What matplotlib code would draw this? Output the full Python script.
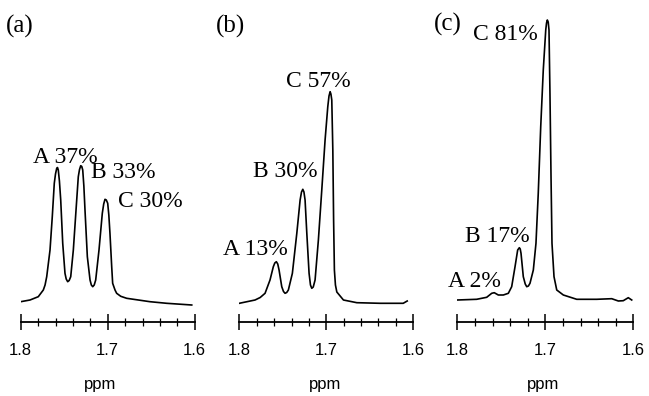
import matplotlib
matplotlib.use("Agg")
import matplotlib.pyplot as plt
from matplotlib.ticker import MultipleLocator, FixedLocator

# ---------------- data ----------------
# Panel (a)
ppm_a = [1.800, 1.7893, 1.7798, 1.7740, 1.7720, 1.7701, 1.7663, 1.7637, 1.7614,
         1.7600, 1.7586, 1.7577, 1.7568, 1.7555, 1.7540, 1.7517, 1.7491, 1.7477,
         1.7460, 1.7443, 1.7425, 1.7395, 1.7364, 1.7338, 1.7324, 1.7310, 1.7298,
         1.7287, 1.7274, 1.7261, 1.7234, 1.7203, 1.7188, 1.7172, 1.7155, 1.7138,
         1.7100, 1.7062, 1.7046, 1.7031, 1.7016, 1.7000, 1.6987, 1.6974, 1.6954,
         1.6943, 1.6916, 1.6897, 1.6850, 1.6782, 1.6514, 1.6322, 1.6034]
int_a = [3.3, 5.0, 8.3, 15.0, 20.0, 28.3, 55.0, 88.3, 121.7,
         131.0, 136.7, 137.5, 135.0, 124.0, 105.0, 61.7, 31.7, 26.0,
         23.3, 24.5, 28.3, 55.0, 95.0, 128.3, 135.5, 139.3, 138.5,
         135.0, 119.0, 95.0, 48.3, 25.0, 20.0, 18.3, 20.0, 25.0,
         55.0, 91.7, 101.0, 105.7, 105.0, 101.7, 90.0, 71.7, 38.3,
         21.7, 15.0, 11.7, 8.7, 6.7, 3.3, 1.7, 0.0]

# Panel (b)
ppm_b = [1.8000, 1.7819, 1.7760, 1.7704, 1.7647, 1.7609, 1.7592, 1.7574, 1.7558,
         1.7543, 1.7512, 1.7492, 1.7474, 1.7455, 1.7436, 1.7390, 1.7339, 1.7301,
         1.7285, 1.7270, 1.7257, 1.7244, 1.7224, 1.7198, 1.7182, 1.7167, 1.7150,
         1.7129, 1.7091, 1.7052, 1.7014, 1.6983, 1.6969, 1.6956, 1.6947, 1.6937,
         1.6925, 1.6916, 1.6907, 1.6895, 1.6879, 1.6803, 1.6649, 1.6381, 1.6116,
         1.6070]
int_b = [1.7, 5.0, 7.5, 11.7, 25.0, 38.3, 42.0, 43.3, 41.0,
         35.0, 18.3, 13.5, 11.7, 12.5, 15.0, 31.7, 71.7, 105.0,
         113.0, 115.7, 113.0, 105.0, 71.7, 31.7, 20.0, 16.7, 18.0,
         25.0, 65.0, 115.0, 165.0, 198.3, 209.0, 213.3, 211.0, 205.0,
         155.0, 85.0, 35.0, 20.0, 13.0, 5.0, 2.3, 1.7, 1.7,
         4.0]

# Panel (c)
ppm_c = [1.8000, 1.7780, 1.7666, 1.7609, 1.7580, 1.7534, 1.7477, 1.7420, 1.7382,
         1.7344, 1.7314, 1.7295, 1.7285, 1.7276, 1.7250, 1.7228, 1.7211, 1.7192,
         1.7174, 1.7136, 1.7106, 1.7080, 1.7052, 1.7023, 1.6995, 1.6986, 1.6977,
         1.6967, 1.6958, 1.6947, 1.6935, 1.6924, 1.6901, 1.6870, 1.6795, 1.6643,
         1.6416, 1.6245, 1.6170, 1.6114, 1.6057, 1.6018]
int_c = [5.0, 5.7, 7.7, 11.7, 12.3, 10.0, 10.0, 11.7, 18.3,
         38.3, 55.0, 57.3, 56.0, 51.7, 28.3, 21.0, 18.3, 19.0,
         21.7, 35.0, 61.7, 111.7, 178.3, 235.0, 275.0, 282.0, 285.0,
         283.0, 275.0, 211.7, 128.3, 61.7, 28.3, 15.0, 10.0, 5.7,
         5.7, 6.3, 4.0, 4.3, 7.3, 5.0]

panel_titles = ["(a)", "(b)", "(c)"]
peak_labels_a = ["A 37%", "B 33%", "C 30%"]
peak_labels_b = ["A 13%", "B 30%", "C 57%"]
peak_labels_c = ["A 2%", "B 17%", "C 81%"]
major_ticks = [1.8, 1.7, 1.6]
tick_labels = ["1.8", "1.7", "1.6"]
x_label = "ppm"

# ---------------- layout ----------------
W, H = 649, 396
fig = plt.figure(figsize=(W / 100, H / 100), dpi=100)

serif = ["Liberation Serif", "DejaVu Serif"]
sans = ["Liberation Sans", "DejaVu Sans"]

axis_y_px = 321.5
top_px = 10
panels = [
    dict(x0=20.7, w=174.0, ppm=ppm_a, inten=int_a, labels=peak_labels_a,
         lpos=[(1.7859, 142), (1.7192, 127), (1.6882, 98)], title_x=6, title_base=33,
         xlab=0.455),
    dict(x0=239.3, w=174.0, ppm=ppm_b, inten=int_b, labels=peak_labels_b,
         lpos=[(1.8188, 50), (1.7842, 128), (1.7463, 218)], title_x=216, title_base=33,
         xlab=0.495),
    dict(x0=457.3, w=176.0, ppm=ppm_c, inten=int_c, labels=peak_labels_c,
         lpos=[(1.8106, 18), (1.7913, 63), (1.7822, 265)], title_x=434, title_base=31,
         xlab=0.49),
]

for i, p in enumerate(panels):
    ax = fig.add_axes([p["x0"] / W, (H - axis_y_px) / H, p["w"] / W,
                       (axis_y_px - top_px) / H])
    ax.plot(p["ppm"], p["inten"], color="black", lw=1.2, solid_joinstyle="round")
    ax.set_xlim(1.8, 1.6)
    ax.set_ylim(-16.5, 295)
    for s in ["top", "left", "right"]:
        ax.spines[s].set_visible(False)
    ax.spines["bottom"].set_bounds(1.6, 1.8)
    ax.spines["bottom"].set_linewidth(1.3)
    ax.set_yticks([])
    ax.xaxis.set_major_locator(FixedLocator(major_ticks))
    ax.set_xticklabels(tick_labels, fontfamily=sans, fontsize=12)
    ax.xaxis.set_minor_locator(MultipleLocator(0.02))
    ax.tick_params(axis="x", which="major", direction="inout", length=11.5,
                   width=1.1, pad=10)
    ax.tick_params(axis="x", which="minor", direction="inout", length=5.5,
                   width=0.9)
    ax.patch.set_visible(False)
    for txt, (lx, ly) in zip(p["labels"], p["lpos"]):
        ax.text(lx, ly, txt, fontfamily=serif, fontsize=17, ha="left",
                va="baseline", clip_on=False)
    ax.text(p["xlab"], (H - 389 - (H - axis_y_px)) / (axis_y_px - top_px), x_label,
            transform=ax.transAxes, fontfamily=sans, fontsize=12, ha="center",
            va="baseline")
    fig.text(p["title_x"] / W, (H - p["title_base"]) / H, panel_titles[i],
             fontfamily=serif, fontsize=18, ha="left", va="baseline")

fig.savefig("out.png", dpi=100)
